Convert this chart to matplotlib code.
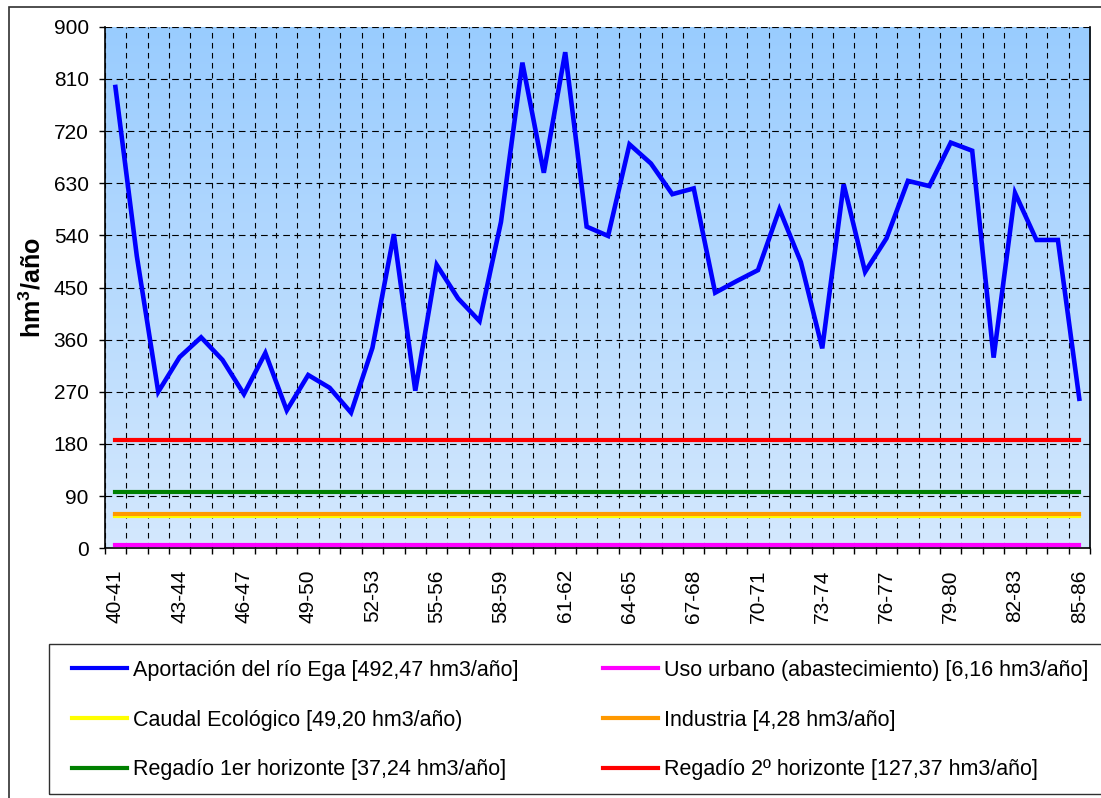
import numpy as np
import matplotlib
matplotlib.use("Agg")
import matplotlib.pyplot as plt
from matplotlib.lines import Line2D
from matplotlib.patches import Rectangle
from matplotlib.colors import LinearSegmentedColormap

plt.rcParams["font.family"] = ["Liberation Sans", "DejaVu Sans"]
plt.rcParams["mathtext.fontset"] = "custom"
plt.rcParams["mathtext.bf"] = "Liberation Sans:bold"
plt.rcParams["mathtext.rm"] = "Liberation Sans"
plt.rcParams["mathtext.default"] = "bf"

##############DATA#################
years = [f"{y}-{y+1}" for y in range(40, 86)]

aportacion = [796, 504, 270, 330, 364, 325, 266, 337, 238, 299,
              277, 234, 346, 542, 272, 489, 431, 392, 563, 838,
              648, 856, 555, 539, 697, 664, 611, 621, 441, 461,
              480, 585, 494, 345, 628, 477, 535, 634, 625, 700,
              686, 329, 613, 532, 532, 258]

uso_urbano = 6.16
caudal_eco = 49.20
industria = 4.28
regadio_1 = 37.24
regadio_2 = 127.37

# demand lines are drawn stacked on top of each other
nivel_urbano = uso_urbano
nivel_eco = nivel_urbano + caudal_eco
nivel_ind = nivel_eco + industria
nivel_reg1 = nivel_ind + regadio_1
nivel_reg2 = nivel_ind + regadio_2

labels = ["Aportación del río Ega [492,47 hm3/año]",
          "Caudal Ecológico [49,20 hm3/año)",
          "Regadío 1er horizonte [37,24 hm3/año]",
          "Uso urbano (abastecimiento) [6,16 hm3/año]",
          "Industria [4,28 hm3/año]",
          "Regadío 2º horizonte [127,37 hm3/año]"]

###############PLOT################
W, H = 1101, 798
fig = plt.figure(figsize=(W / 100, H / 100), dpi=100)
ax = fig.add_axes([104.7 / W, 1 - 548.3 / H, (1090 - 104.7) / W, (548.3 - 26.7) / H])

n = len(years)
x = np.arange(n)

# gradient background
cmap = LinearSegmentedColormap.from_list("bg", ["#d4e8fd", "#99ccff"])
grad = np.linspace(0, 1, 256).reshape(-1, 1)
ax.imshow(grad, extent=[-0.5, n - 0.5, 0, 900], origin="lower", aspect="auto",
          cmap=cmap, zorder=0)

lw = 3.0
ax.plot(x, [nivel_urbano] * n, color="#ff00ff", lw=lw, zorder=3)
ax.plot(x, [nivel_eco] * n, color="#ffff00", lw=lw, zorder=3)
ax.plot(x, [nivel_ind] * n, color="#ff9900", lw=lw, zorder=3)
ax.plot(x, [nivel_reg1] * n, color="#008000", lw=lw, zorder=3)
ax.plot(x, [nivel_reg2] * n, color="#ff0000", lw=lw, zorder=3)
ax.plot(x, aportacion, color="#0000ff", lw=3.3, zorder=4, solid_joinstyle="miter")

ax.set_xlim(-0.5, n - 0.5)
ax.set_ylim(0, 900)

ax.set_yticks(np.arange(0, 901, 90))
ax.yaxis.grid(True, color="black", lw=0.8, linestyle=(0, (6, 4)), zorder=1)
ax.set_xticks(np.arange(-0.5, n, 1), minor=True)
ax.xaxis.grid(True, which="minor", color="black", lw=0.8, linestyle=(0, (5, 4)), zorder=1)
ax.set_axisbelow(False)
ax.set_xticks(x[::3])
ax.set_xticklabels(years[::3], rotation=90, fontsize=15)
ax.tick_params(axis="x", which="major", length=0, pad=15)
ax.tick_params(axis="x", which="minor", length=4, width=1, direction="out")
ax.tick_params(axis="y", length=4.5, width=1, pad=7, labelsize=15)

for s in ["left", "bottom", "right"]:
    ax.spines[s].set_linewidth(1.2)
ax.spines["top"].set_visible(False)

ax.set_ylabel("hm$^{3}$/año", fontsize=18, fontweight="bold")
ax.yaxis.set_label_coords(-0.06, 0.5)

# outer frame and legend frame
fig.patches.append(Rectangle((9 / W, -0.1), 1.2, 1 - 6.7 / H + 0.1,
                             transform=fig.transFigure, fill=False,
                             edgecolor="#303030", lw=1.2))
fig.patches.append(Rectangle((49 / W, 1 - 794 / H), 1.2, 150 / H,
                             transform=fig.transFigure, fill=False,
                             edgecolor="#303030", lw=1.0))

handles = [Line2D([], [], color=c, lw=3.0) for c in
           ["#0000ff", "#ffff00", "#008000", "#ff00ff", "#ff9900", "#ff0000"]]
fig.legend(handles, labels, ncol=2, loc="upper left",
           bbox_to_anchor=(72 / W, 1 - 660 / H), frameon=False, fontsize=15.5,
           borderpad=0, borderaxespad=0, handlelength=2.56, handletextpad=0.28,
           labelspacing=1.33, columnspacing=3.9)

fig.savefig("out.png", dpi=100)
